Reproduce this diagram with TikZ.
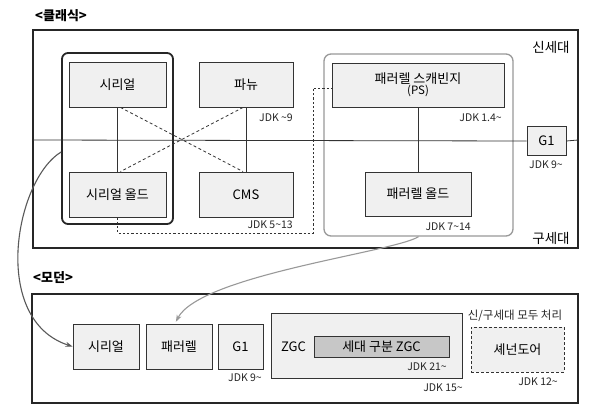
\documentclass[tikz,border=0pt]{standalone}
\usepackage{fontspec}
\setmainfont{Noto Sans CJK KR}
\usetikzlibrary{arrows.meta}
\begin{document}
\begin{tikzpicture}[x=1pt,y=-1pt,
  gbox/.style={draw=black!80, fill=black!6, line width=0.9pt, inner sep=0pt,
    font=\fontsize{13}{14}\selectfont},
  note/.style={font=\fontsize{10.5}{12}\selectfont, inner sep=0pt, text=black!85},
  title/.style={font=\fontsize{13}{14}\selectfont\bfseries, inner sep=0pt, anchor=west},
  genlabel/.style={font=\fontsize{13.5}{14}\selectfont, inner sep=0pt},
  outer/.style={draw=black!85, line width=1.1pt},
  conn/.style={draw=black!80, line width=0.8pt},
  dashconn/.style={draw=black!80, line width=0.8pt, dash pattern=on 3pt off 2.5pt},
  dotconn/.style={draw=black!80, line width=0.9pt, dash pattern=on 2.2pt off 2pt},
]
\useasboundingbox (0,0) rectangle (613,420);
\fill[white] (0,0) rectangle (613,420);

% ---------- classic ----------
\node[title] (tclassic) at (35,16) {<클래식>};
\draw[outer] (33,30) rectangle (578,248);
\coordinate (cl) at (33,140);
\coordinate (cr) at (578,140);

\node[draw=black!85, line width=1.8pt, rounded corners=6pt, minimum width=111, minimum height=171, inner sep=0pt] (sgrp) at (117.5,138.5) {};
\node[draw=black!40, line width=1.3pt, rounded corners=7pt, minimum width=189, minimum height=182, inner sep=0pt] (pgrp) at (418.5,145) {};

\node[gbox, minimum width=39, minimum height=29] (g1c) at (546.5,141) {G1};
\draw[conn] (cl) -- (g1c.west);
\draw[conn] (g1c.east) -- (cr);

\node[gbox, minimum width=97, minimum height=45] (ser) at (117.5,84.5) {시리얼};
\node[gbox, minimum width=97, minimum height=45] (serold) at (117.5,194.5) {시리얼 올드};
\node[gbox, minimum width=94, minimum height=45] (parnew) at (246,84.5) {파뉴};
\node[gbox, minimum width=94, minimum height=45] (cms) at (246,194.5) {CMS};
\node[gbox, minimum width=172, minimum height=44, align=center] (ps) at (418,85)
  {패러렐 스캐빈지\\[-3pt]{\fontsize{11.5}{12}\selectfont (PS)}};
\node[gbox, minimum width=106, minimum height=44] (parold) at (418,194) {패러렐 올드};

\draw[conn] (ser.south) -- (serold.north);
\draw[conn] (parnew.south) -- (cms.north);
\draw[conn] (ps.south) -- (parold.north);
\draw[dashconn] ([xshift=3pt]ser.south) -- ([xshift=-3pt]cms.north);
\draw[dashconn] ([xshift=-3pt]parnew.south) -- ([xshift=3pt]serold.north);
\coordinate (d1) at (313,233);
\draw[dotconn] (serold.south) |- (d1) |- ([yshift=-3pt]ps.west);

\node[note, anchor=east] (j1) at (293,118) {JDK \textasciitilde9};
\node[note, anchor=east] (j2) at (293,225) {JDK 5\textasciitilde13};
\node[note, anchor=east] (j3) at (502,118) {JDK 1.4\textasciitilde};
\node[note, anchor=east] (j4) at (471,227) {JDK 7\textasciitilde14};
\node[note] (j5) at (546,165) {JDK 9\textasciitilde};
\node[genlabel] (young) at (551,47) {신세대};
\node[genlabel] (old) at (551,238) {구세대};

% ---------- modern ----------
\node[title] (tmodern) at (33,278) {<모던>};
\draw[outer] (32,294) rectangle (578,403);

\node[gbox, minimum width=66, minimum height=45] (mser) at (106,346.5) {시리얼};
\node[gbox, minimum width=66, minimum height=45] (mpar) at (179,346.5) {패러렐};
\node[gbox, minimum width=45, minimum height=45] (mg1) at (240.5,346.5) {G1};
\node[gbox, minimum width=191, minimum height=65] (zgc) at (366.5,345.5) {};
\node[font=\fontsize{13}{14}\selectfont, inner sep=0pt] (zgct) at (293.5,347) {ZGC};
\node[gbox, fill=black!22, minimum width=135, minimum height=21] (gzgc) at (381.5,346.5) {세대 구분 ZGC};
\node[gbox, dashed, dash pattern=on 3pt off 2pt, minimum width=93, minimum height=45] (shen) at (517.5,349.5) {셰넌도어};

\node[note] (j6) at (245,378) {JDK 9\textasciitilde};
\node[note, anchor=east] (j7) at (447,367) {JDK 21\textasciitilde};
\node[note, anchor=east] (j8) at (463,388) {JDK 15\textasciitilde};
\node[note, anchor=east] (j9) at (558,382) {JDK 12\textasciitilde};
\node[font=\fontsize{11.5}{12}\selectfont, inner sep=0pt, text=black!85] (both) at (515,316) {신/구세대 모두 처리};

% ---------- arrows ----------
\draw[draw=black!65, line width=1.1pt, -{Stealth[length=7pt,width=5pt]}]
  ([yshift=-13.5pt]sgrp.west) .. controls (15,180) and (-10,320) .. (mser.west);
\draw[draw=black!40, line width=1.1pt, shorten >=2pt, -{Stealth[length=7pt,width=5pt]}]
  (pgrp.south) .. controls (395,252) and (200,275) .. ([xshift=-4pt]mpar.north);
\end{tikzpicture}
\end{document}
